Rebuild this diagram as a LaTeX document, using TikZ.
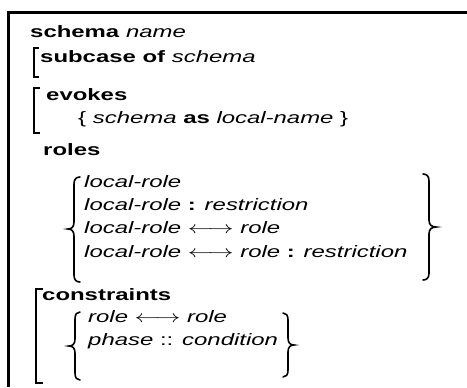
\documentclass[tikz,border=0pt]{standalone}
\usepackage{fontspec}
\setmainfont{Liberation Sans}
\usepackage{graphicx}
\newcommand{\kw}[1]{\textbf{#1}}
\newcommand{\vr}[1]{\textit{#1}}
\newcommand{\sx}[1]{\scalebox{1.45}[1]{#1}}
\newcommand{\lra}{$\longleftrightarrow$}
% brace: #1 = x of vertical stroke, #2 = x of ends, #3 = x of tip, #4 top y, #5 mid y, #6 bottom y
\newcommand{\bracepath}[6]{%
  \draw[brc] (#2,#4) .. controls ({#1+0.4*(#2-#1)},#4) and (#1,{#4+2}) .. (#1,{#4+7})
    -- (#1,{#5-7}) .. controls (#1,{#5-2}) and ({#1+0.4*(#3-#1)},#5) .. (#3,#5)
    .. controls ({#1+0.4*(#3-#1)},#5) and (#1,{#5+2}) .. (#1,{#5+7})
    -- (#1,{#6-7}) .. controls (#1,{#6-2}) and ({#1+0.4*(#2-#1)},#6) .. (#2,#6);}
\tikzset{
  txt/.style={anchor=base west, inner sep=0pt, font=\fontsize{16.5bp}{19bp}\selectfont},
  brk/.style={line width=1.4bp},
  brc/.style={line width=1.6bp, line cap=round},
  frame/.style={line width=3bp},
}
\begin{document}
\begin{tikzpicture}[x=1bp,y=-1bp]
\useasboundingbox (0,0) rectangle (467,387);
\draw[frame] (8,387) -- (8,12) -- (467,12);
\node[txt] (t1) at (30,37) {\sx{\kw{schema} \vr{name}}};
\draw[brk] (39,48) -- (34,48) -- (34,77) -- (39,77);
\node[txt] (t2) at (40,62) {\sx{\kw{subcase of} \vr{schema}}};
\draw[brk] (40,88) -- (34,88) -- (34,133) -- (40,133);
\node[txt] (t3) at (46,100) {\sx{\kw{evokes}}};
\node[txt] (t4) at (78,123) {\sx{\{ \vr{schema} \kw{as} \vr{local-name} \}}};
\node[txt] (t5) at (43,155) {\sx{\kw{roles}}};
\bracepath{74}{80}{68}{177}{229}{282}
\node[txt] (r1) at (84,187) {\sx{\vr{local-role}}};
\node[txt] (r2) at (84,210) {\sx{\vr{local-role} \kw{:} \vr{restriction}}};
\node[txt] (r3) at (84,233) {\sx{\vr{local-role} \lra{} \vr{role}}};
\node[txt] (r4) at (84,257) {\sx{\vr{local-role} \lra{} \vr{role} \kw{:} \vr{restriction}}};
\bracepath{429}{423}{436}{174}{227}{280}
\draw[brk] (43,289) -- (36,289) -- (36,383) -- (43,383);
\node[txt] (c0) at (42,300) {\sx{\kw{constraints}}};
\bracepath{75}{80}{69}{312}{346}{380}
\node[txt] (c1) at (88,322) {\sx{\vr{role} \lra{} \vr{role}}};
\node[txt] (c2) at (88,345) {\sx{\vr{phase} :: \vr{condition}}};
\bracepath{288}{283}{294}{313}{345}{377}
\end{tikzpicture}
\end{document}
